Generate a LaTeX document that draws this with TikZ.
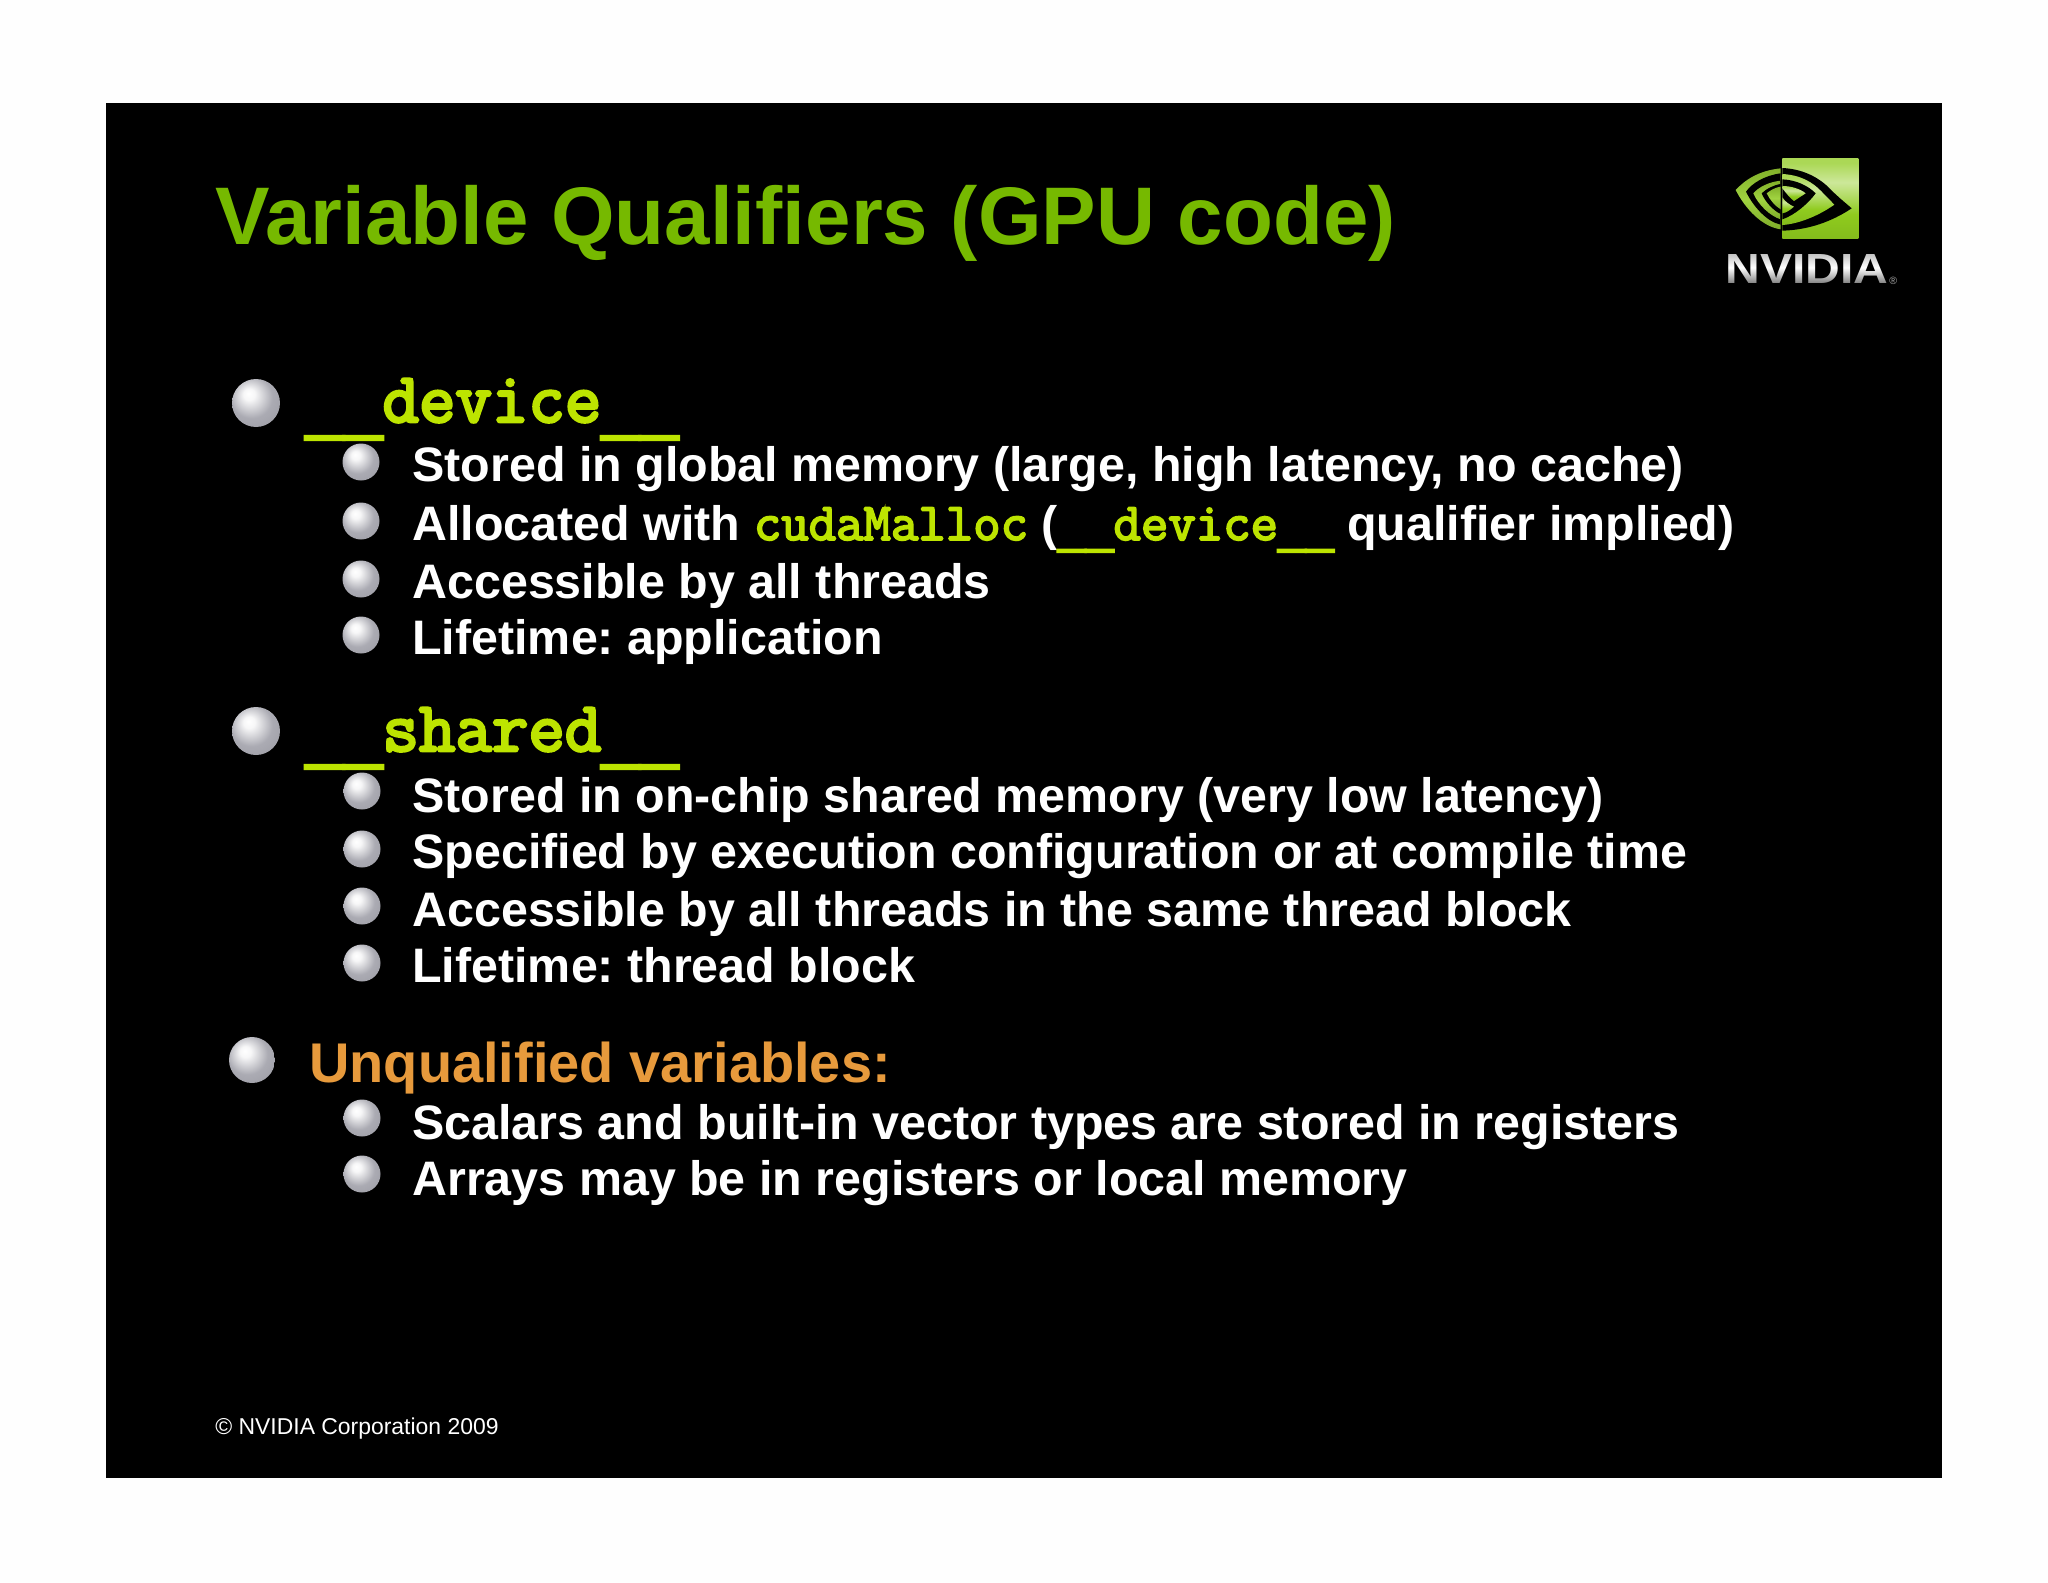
\documentclass[tikz,border=0pt]{standalone}
\usepackage{fontspec}
\setmainfont{Liberation Sans}
\newfontfamily\codefont[FakeBold=4]{Latin Modern Mono}
\newfontfamily\inlinefont[FakeBold=3.5]{Latin Modern Mono}
\newfontfamily\barfont[FakeBold=5]{Liberation Mono}
\usetikzlibrary{fadings}

\definecolor{nvgreen}{HTML}{76B900}
\definecolor{logogreen}{HTML}{8FCB1E}
\definecolor{codelime}{HTML}{BDE400}
\definecolor{headorange}{HTML}{E79A3C}
\definecolor{paperwhite}{HTML}{FEFEFE}
\definecolor{ballmid}{HTML}{ABABB3}
\definecolor{balledge}{HTML}{74747E}

\pgfdeclareradialshading{silverball}{\pgfpoint{-8bp}{10bp}}{%
  color(0bp)=(white); color(6bp)=(white!90!ballmid); color(22bp)=(ballmid); color(42bp)=(ballmid!65!balledge); color(58bp)=(balledge)}
\pgfdeclareverticalshading{logoshine}{100bp}{%
  color(0bp)=(logogreen!80!black); color(40bp)=(logogreen); color(60bp)=(logogreen!45!white); color(72bp)=(logogreen!75!white); color(100bp)=(logogreen!80!white)}
\pgfdeclareverticalshading{lensshade}{100bp}{%
  color(0bp)=(logogreen!65!black); color(50bp)=(logogreen!85!white); color(100bp)=(logogreen!70!black)}
\tikzfading[name=logotextfade, bottom color=transparent!45, top color=transparent!70, middle color=transparent!100]

\tikzset{
  slidetitle/.style={anchor=base west,inner sep=0pt,text=nvgreen,font=\bfseries\fontsize{46.5}{56}\selectfont},
  subitem/.style={anchor=base west,inner sep=0pt,text=white,font=\bfseries\fontsize{27.55}{34}\selectfont},
  codehead/.style={anchor=base west,inner sep=0pt,text=codelime,font=\codefont\fontsize{40.3}{48}\selectfont},
  orangehead/.style={anchor=base west,inner sep=0pt,text=headorange,font=\bfseries\fontsize{31.85}{38}\selectfont},
  copyrightline/.style={anchor=base west,inner sep=0pt,text=white,font=\fontsize{13.05}{16}\selectfont},
  bigball/.style={circle,inner sep=0pt,minimum size=0.96cm,shading=silverball},
  smallball/.style={circle,inner sep=0pt,minimum size=0.74cm,shading=silverball},
  lenspart/.style={shading=lensshade},
}
\newcommand{\headbars}{\raisebox{-6pt}{\barfont\fontsize{36.6}{48}\selectfont\_\_}}
\newcommand{\inlinebars}{\raisebox{-4pt}{\barfont\fontsize{26.5}{34}\selectfont\_\_}}
\newcommand{\inlinecode}[1]{{\color{codelime}\inlinefont\fontsize{30.3}{34}\selectfont #1}}

\begin{document}
\frenchspacing
\begin{tikzpicture}[x=0.02cm,y=-0.02cm]
    \useasboundingbox (0,0) rectangle (2048,1582);
    \fill[paperwhite] (0,0) rectangle (2048,1582);
    \fill[black] (105.5,103) rectangle (1942,1478);

    % title and logo
    \node[slidetitle] (title) at (215,244) {Variable Qualifiers (GPU code)};

    \begin{scope}[shift={(1725,150)},x=0.00667cm,y=-0.00667cm]
        \shade[shading=logoshine] (172,25) rectangle (400,265);
        % left half of the eye
        \shade[lenspart] (167,55) .. controls (100,62) and (60,90) .. (32,120) .. controls (60,175) and (110,230) .. (167,238) -- cycle;
        \fill[black] (167,70) .. controls (120,76) and (80,100) .. (63,125) .. controls (85,170) and (125,215) .. (167,224) -- cycle;
        \shade[lenspart] (167,92) .. controls (130,96) and (100,112) .. (85,130) .. controls (100,165) and (135,198) .. (167,208) -- cycle;
        \fill[black] (167,102) .. controls (145,105) and (122,118) .. (110,130) .. controls (120,155) and (145,182) .. (167,192) -- cycle;
        \shade[lenspart] (167,110) .. controls (150,112) and (135,122) .. (125,130) .. controls (135,150) and (150,168) .. (167,178) -- cycle;
        % right half of the eye
        \fill[black] (172,54) .. controls (240,57) and (290,88) .. (320,122) -- (345,145) -- (380,175) .. controls (320,215) and (250,240) .. (172,242) -- cycle;
        \shade[shading=logoshine] (172,72) .. controls (225,75) and (262,95) .. (290,125) -- (328,164) .. controls (280,198) and (220,222) .. (172,225) -- cycle;
        \fill[black] (172,88) .. controls (215,90) and (250,108) .. (272,130) .. controls (250,160) and (210,195) .. (172,208) -- cycle;
        \shade[shading=logoshine] (172,108) .. controls (200,108) and (228,118) .. (242,130) -- (207,153) .. controls (195,145) and (180,125) .. (172,115) -- cycle;
        \shade[shading=logoshine] (172,142) .. controls (180,155) and (195,165) .. (207,170) .. controls (195,180) and (185,188) .. (172,190) -- cycle;
    \end{scope}
    \node[anchor=base west,inner sep=0pt,text=white,xscale=1.14,font=\bfseries\fontsize{24}{28}\selectfont] (logotext) at (1725,283) {NVIDIA};
    \fill[black,path fading=logotextfade] (1720,250) rectangle (1892,285);
    \node[anchor=base west,inner sep=0pt,text=black!35,font=\fontsize{6}{7}\selectfont] (logomark) at (1889,284) {®};

    % __device__
    \node[bigball] (ballA) at (256,403) {};
    \node[codehead] (headA) at (305,422) {\headbars device\headbars};
    \foreach \n/\x/\y/\by/\txt in {
        1/412/481/462/{Stored in global memory (large, high latency, no cache)},
        2/412/540/521/{Allocated with \inlinecode{cudaMalloc} (\inlinecode{\inlinebars device\inlinebars} qualifier implied)},
        3/412/598/579/{Accessible by all threads},
        4/412/654/635/{Lifetime: application}} {
        \node[smallball] (ballA\n) at (361,\by) {};
        \node[subitem] (itemA\n) at (\x,\y) {\txt};
    }

    % __shared__
    \node[bigball] (ballB) at (256,731) {};
    \node[codehead] (headB) at (305,751) {\headbars shared\headbars};
    \foreach \n/\x/\y/\by/\txt in {
        1/412/812/791/{Stored in on-chip shared memory (very low latency)},
        2/412/868/849/{Specified by execution configuration or at compile time},
        3/412/926/906/{Accessible by all threads in the same thread block},
        4/412/982/963/{Lifetime: thread block}} {
        \node[smallball] (ballB\n) at (362,\by) {};
        \node[subitem] (itemB\n) at (\x,\y) {\txt};
    }

    % unqualified
    \node[bigball,minimum size=0.92cm] (ballC) at (252,1060) {};
    \node[orangehead] (headC) at (309,1082) {Unqualified variables:};
    \foreach \n/\x/\y/\by/\txt in {
        1/412/1139/1118/{Scalars and built-in vector types are stored in registers},
        2/412/1195/1174/{Arrays may be in registers or local memory}} {
        \node[smallball] (ballC\n) at (362,\by) {};
        \node[subitem] (itemC\n) at (\x,\y) {\txt};
    }

    \node[copyrightline] (copyright) at (215,1434) {© NVIDIA Corporation 2009};
\end{tikzpicture}
\end{document}
